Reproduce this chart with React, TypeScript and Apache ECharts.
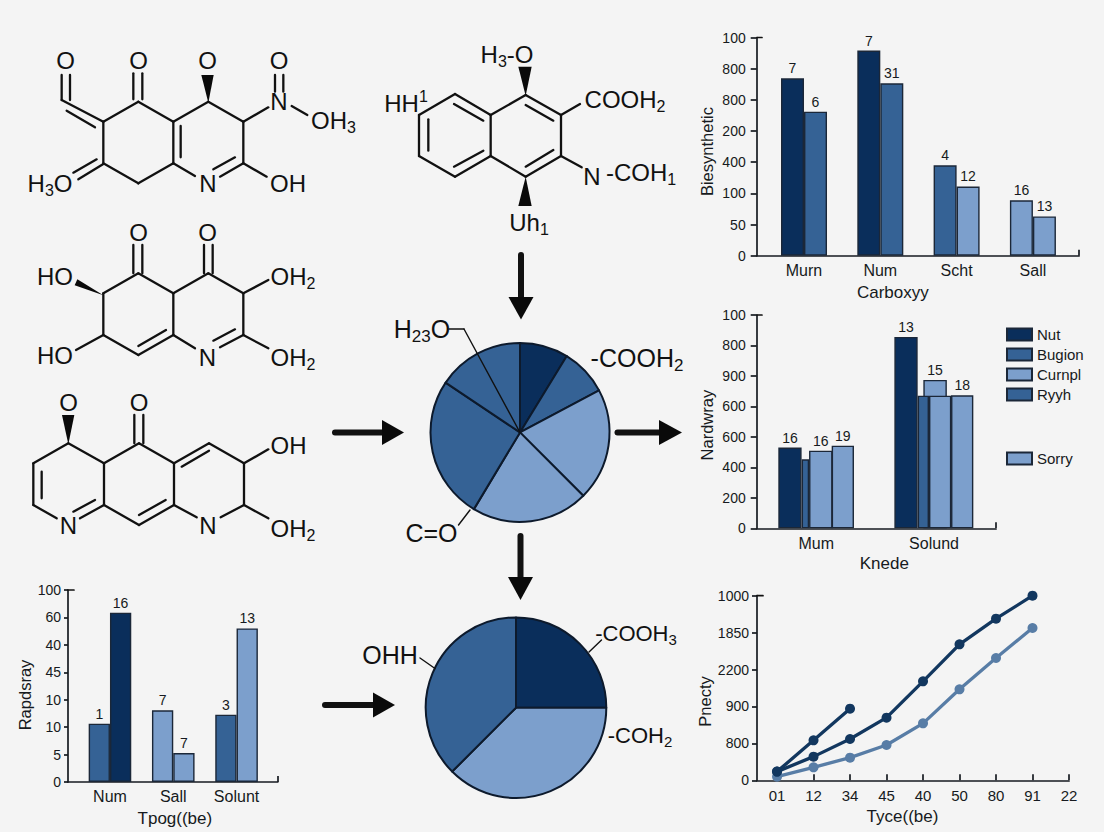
import React, { useEffect, useRef } from "react";
import * as echarts from "echarts";

const DARK = "#0a2e5b";
const MID = "#356295";
const LIGHT = "#7c9fcc";
const EDGE = "#1b2738";
const INK = "#161a20";
const FONT = "Liberation Sans";

// top right bars
const trTicks = ["0", "50", "100", "400", "200", "800", "800", "100"];
const trCats = ["Murn", "Num", "Scht", "Sall"];
const trFirst = [5.69, 6.58, 2.9, 1.775];
const trSecond = [4.62, 5.53, 2.22, 1.26];
const trFirstLabels = ["7", "7", "4", "16"];
const trSecondLabels = ["6", "31", "12", "13"];
const trFirstColors = [DARK, DARK, MID, LIGHT];
const trSecondColors = [MID, MID, LIGHT, LIGHT];

// middle right bars
const mrTicks = ["0", "200", "400", "600", "600", "900", "800", "100"];
const mrCats = ["Mum", "Solund"];
const nutVals = [[0.773, 2.648], [1.758, 6.28]];
const bugionVals = [[0.971, 2.265]];
const ryyhVals = [[1.956, 4.354]];
const curnplVals = [[1.034, 2.549], [2.004, 4.869]];
const sorryVals = [[1.226, 2.713], [2.052, 4.354], [2.239, 4.365]];
const nutLabels = ["16", "13"];
const curnplLabels = ["16", "15"];
const sorryLabels = ["19", "", "18"];

// bottom left bars
const blTicks = ["0", "5", "10", "10", "45", "40", "60", "100"];
const blCats = ["Num", "Sall", "Solunt"];
const blFirst = [2.126, 2.612, 2.454];
const blSecond = [6.173, 1.057, 5.6];
const blFirstLabels = ["1", "7", "3"];
const blSecondLabels = ["16", "7", "13"];
const blFirstColors = [MID, LIGHT, MID];
const blSecondColors = [DARK, LIGHT, LIGHT];

// bottom right lines
const brTicks = ["0", "800", "900", "2200", "1850", "1000"];
const brCats = ["01", "12", "34", "45", "40", "50", "80", "91", "22"];
const brShort = [0.235, 1.083, 1.94];
const brLong = [0.235, 0.641, 1.119, 1.697, 2.68, 3.682, 4.377, 5.0];
const brLight = [0.099, 0.352, 0.614, 0.957, 1.543, 2.464, 3.312, 4.125];

// pies
const pieOneValues = [31.5, 30.5, 73, 76, 92.8, 56.2];
const pieOneColors = [DARK, MID, LIGHT, LIGHT, MID, MID];
const pieTwoValues = [90, 135, 135];
const pieTwoColors = [DARK, LIGHT, MID];

// drawing of the molecules, in units of a 3x crop
type Seg = number[];
const molOneBonds: Seg[] = [
  [310, 305, 415, 245], [415, 245, 520, 305], [520, 305, 520, 430], [520, 430, 415, 490], [415, 490, 310, 430], [310, 430, 310, 305],
  [520, 305, 625, 245], [625, 245, 730, 305], [730, 305, 730, 430], [520, 430, 585, 468], [730, 430, 660, 470], [705, 412, 640, 448],
  [542, 318, 542, 412], [730, 305, 805, 262], [825, 165, 825, 215], [850, 165, 850, 215], [875, 258, 922, 285], [730, 430, 800, 470],
  [400, 160, 400, 238], [427, 160, 427, 238], [185, 165, 185, 240], [210, 165, 210, 240], [185, 240, 310, 305], [200, 272, 285, 322],
  [290, 418, 220, 458], [310, 432, 235, 478],
];
const molTwoBonds: Seg[] = [
  [310, 250, 415, 190], [415, 190, 520, 250], [520, 250, 520, 375], [520, 375, 415, 435], [415, 435, 310, 375], [310, 375, 310, 250],
  [520, 250, 625, 190], [625, 190, 730, 250], [730, 250, 730, 375], [730, 375, 660, 412], [705, 358, 640, 392], [520, 375, 585, 415],
  [498, 360, 415, 408], [400, 105, 400, 190], [427, 105, 427, 190], [612, 105, 612, 190], [638, 105, 638, 190],
  [730, 250, 805, 210], [730, 375, 805, 415], [310, 375, 228, 420],
];
const molThreeBonds: Seg[] = [
  [100, 760, 205, 700], [205, 700, 312, 760], [312, 760, 312, 885], [312, 885, 240, 925], [100, 885, 170, 925], [100, 760, 100, 885],
  [312, 760, 417, 700], [417, 700, 522, 760], [522, 760, 522, 885], [522, 885, 417, 945], [417, 945, 312, 885],
  [522, 760, 627, 700], [627, 700, 732, 760], [732, 760, 732, 885], [732, 885, 662, 922], [522, 885, 590, 922],
  [125, 785, 125, 865], [285, 870, 220, 905], [497, 870, 417, 915], [545, 770, 627, 722],
  [403, 615, 403, 700], [430, 615, 430, 700], [732, 760, 805, 718], [732, 885, 805, 925],
];
const molFourBonds: Seg[] = [
  [147, 255, 255, 192], [255, 192, 362, 255], [362, 255, 362, 378], [362, 378, 255, 440], [255, 440, 147, 378], [147, 378, 147, 255],
  [362, 255, 467, 195], [467, 195, 573, 255], [573, 255, 573, 378], [573, 378, 467, 440], [467, 440, 362, 378],
  [175, 268, 175, 362], [252, 222, 340, 272], [252, 410, 340, 362], [467, 225, 550, 272], [467, 410, 550, 360],
  [573, 255, 630, 222], [573, 378, 635, 412],
];

const tx = (color: string) => ({ color, fontFamily: FONT });

function valueY(ticks: string[], name: string, pad: number[], gap: number, grid: number, margin: number, tickLen: number) {
  return {
    type: "value", gridIndex: grid, min: 0, max: ticks.length - 1, interval: 1,
    name, nameLocation: "middle", nameGap: gap,
    nameTextStyle: { ...tx(INK), fontSize: 16.5, padding: pad },
    splitLine: { show: false },
    axisLine: { show: true, onZero: false, lineStyle: { color: INK, width: 1.7 } },
    axisTick: { show: true, length: tickLen, lineStyle: { color: INK, width: 1.7 } },
    axisLabel: { ...tx(INK), fontSize: 14, margin, formatter: (v: number) => ticks[v] },
  };
}

function valueX(min: number, max: number, cats: string[], labelAt: number[], name: string, pad: number[], gap: number, grid: number, tickAt: number[], labelSize: number, margin: number) {
  return {
    type: "value", gridIndex: grid, min, max,
    name, nameLocation: "middle", nameGap: gap,
    nameTextStyle: { ...tx(INK), fontSize: 17, padding: pad },
    splitLine: { show: false },
    axisLine: { show: true, lineStyle: { color: INK, width: 1.7 } },
    axisTick: { show: true, inside: true, length: 6, customValues: tickAt, lineStyle: { color: INK, width: 1.7 } },
    axisLabel: {
      ...tx(INK), fontSize: labelSize, margin, customValues: labelAt,
      formatter: (v: number) => cats[labelAt.indexOf(v)],
    },
  };
}

const barBase = {
  type: "bar",
  itemStyle: { borderColor: EDGE, borderWidth: 1.4 },
};

const pointLabel = (text: string) => ({
  show: text !== "", position: "top", distance: 3, formatter: text, ...tx(INK), fontSize: 14,
});

function pairedBars(cats: string[], vals: number[], labels: string[], colors: string[], axis: number, width: number) {
  return {
    ...barBase, xAxisIndex: axis, yAxisIndex: axis, barWidth: width, barGap: "0%",
    data: cats.map((_, i) => ({
      value: [i + 1, vals[i]],
      itemStyle: { color: colors[i], borderColor: EDGE, borderWidth: 1.4 },
      label: pointLabel(labels[i]),
    })),
  };
}

function namedBars(name: string, vals: number[][], labels: string[] | null, color: string, width: number) {
  return {
    ...barBase, name, xAxisIndex: 1, yAxisIndex: 1, barWidth: width, barGap: "-100%",
    itemStyle: { color, borderColor: EDGE, borderWidth: 1.4 },
    data: vals.map((v, i) => ({ value: v, label: pointLabel(labels ? labels[i] : "") })),
  };
}

function lineS(vals: number[], color: string, z: number) {
  return {
    type: "line", xAxisIndex: 3, yAxisIndex: 3, z,
    data: vals.map((v, i) => [i, v]),
    symbol: "circle", symbolSize: 10,
    lineStyle: { color, width: 3.3 }, itemStyle: { color },
  };
}

function pieS(cx: number, cy: number, r: number, values: number[], colors: string[]) {
  return {
    type: "pie", center: [cx, cy], radius: r, startAngle: 90, clockwise: true,
    label: { show: false }, labelLine: { show: false }, silent: true,
    data: values.map((value, i) => ({
      value, name: "slice " + (i + 1),
      itemStyle: { color: colors[i], borderColor: "#0d1a2c", borderWidth: 2 },
    })),
  };
}

const rich = (size: number) => ({
  n: { fontSize: size, fontFamily: FONT, fill: "#111", lineHeight: size + 6 },
  s: { fontSize: Math.round(size * 0.68), fontFamily: FONT, fill: "#111", lineHeight: size + 6, verticalAlign: "bottom" },
  u: { fontSize: Math.round(size * 0.68), fontFamily: FONT, fill: "#111", lineHeight: size + 6, verticalAlign: "top" },
});

function atom(x: number, y: number, text: string, size = 24) {
  return {
    type: "text", x, y, z: 20, silent: true,
    style: { text, align: "center", verticalAlign: "middle", rich: rich(size), fill: "#111", font: `${size}px "${FONT}"` },
  };
}

const seg = (x1: number, y1: number, x2: number, y2: number, w = 2.3) => ({
  type: "line", z: 15, silent: true,
  shape: { x1, y1, x2, y2 }, style: { stroke: "#111", lineWidth: w, lineCap: "round" },
});
const bonds = (ox: number, oy: number, list: Seg[]) =>
  list.map(([a, b, c, d]) => seg(ox + a / 3, oy + b / 3, ox + c / 3, oy + d / 3));
const poly = (pts: number[][]) => ({
  type: "polygon", z: 15, silent: true, shape: { points: pts }, style: { fill: "#0a0a0a" },
});
const wedge = (ox: number, oy: number, pts: number[][]) => poly(pts.map(([x, y]) => [ox + x / 3, oy + y / 3]));

function arrowRight(x1: number, x2: number, tip: number, y: number) {
  return [seg(x1, y, x2, y, 6), poly([[x2, y - 12.5], [x2, y + 12.5], [tip, y]])];
}
function arrowDown(x: number, y1: number, y2: number, tip: number) {
  return [seg(x, y1, x, y2, 6), poly([[x - 12.5, y2], [x + 12.5, y2], [x, tip]])];
}

const graphics = [
  ...bonds(0, 20, molOneBonds),
  wedge(0, 20, [[625, 248], [604, 165], [641, 165]]),
  atom(65.5, 60, "{n|O}"), atom(138.5, 60, "{n|O}"), atom(207.5, 60, "{n|O}"), atom(279, 60, "{n|O}"),
  atom(279, 101.5, "{n|N}"), atom(333.5, 120, "{n|OH}{s|3}"), atom(50, 183.5, "{n|H}{s|3}{n|O}"),
  atom(208, 183, "{n|N}"), atom(288, 183.5, "{n|OH}"),

  ...bonds(0, 210, molTwoBonds),
  wedge(0, 210, [[310, 256], [232, 208], [224, 226]]),
  atom(138.5, 232, "{n|O}"), atom(207.5, 232, "{n|O}"), atom(55, 276, "{n|HO}"), atom(293, 276.5, "{n|OH}{s|2}"),
  atom(55, 355, "{n|HO}"), atom(293, 357, "{n|OH}{s|2}"), atom(207.5, 357, "{n|N}"),

  ...bonds(0, 210, molThreeBonds),
  wedge(0, 210, [[205, 703], [186, 615], [223, 615]]),
  atom(68.5, 402, "{n|O}"), atom(139, 402, "{n|O}"), atom(288.5, 445, "{n|OH}"), atom(293, 528, "{n|OH}{s|2}"),
  atom(68.5, 525, "{n|N}"), atom(208, 525, "{n|N}"),

  ...bonds(370, 30, molFourBonds),
  wedge(370, 30, [[467, 197], [445, 110], [485, 110]]),
  wedge(370, 30, [[467, 440], [445, 528], [485, 528]]),
  atom(507, 54, "{n|H}{s|3}{n|-O}"), atom(625, 99, "{n|COOH}{s|2}"), atom(592, 176, "{n|N}"), atom(641, 172, "{n|-COH}{s|1}"),
  atom(406, 103, "{n|HH}{u|1}"), atom(529, 222, "{n|Uh}{s|1}"),

  ...arrowDown(521, 255, 297, 319.5),
  ...arrowRight(335, 382, 404, 432.5),
  ...arrowRight(617.5, 659, 682, 432.5),
  ...arrowDown(520.5, 536, 577, 600),
  ...arrowRight(325, 373, 395, 705),

  atom(422, 329, "{n|H}{s|23}{n|O}", 25),
  seg(449, 329, 464, 329, 1.4), seg(464, 329, 520, 432.5, 1.4),
  atom(637, 358, "{n|-COOH}{s|2}", 25),
  atom(431.5, 532.5, "{n|C=O}", 25),
  seg(458.5, 525, 470, 510, 1.4),

  atom(390, 655, "{n|OHH}", 25),
  seg(420, 658, 435, 668.5, 1.4),
  atom(636, 633, "{n|-COOH}{s|3}", 22),
  seg(601.5, 640, 589, 652, 1.4),
  atom(640, 735, "{n|-COH}{s|2}", 22),

  seg(757, 37.5, 762, 37.5, 1.7), seg(757, 315, 762, 315, 1.7), seg(68, 590, 74, 590, 1.7), seg(757, 595.7, 763, 595.7, 1.7),
];

const grids = [
  { left: 756.7, top: 37.5, width: 322.3, height: 218.2 },
  { left: 756.7, top: 315, width: 239.3, height: 213.3 },
  { left: 68, top: 590, width: 209.7, height: 192 },
  { left: 757, top: 595.7, width: 312, height: 184.6 },
];

const option: any = {
  animation: false,
  backgroundColor: "#f4f4f4",
  textStyle: { fontFamily: FONT },
  grid: grids,
  xAxis: [
    valueX(0.38, 4.604, trCats, [1, 2, 3, 4], "Carboxyy", [0, 50, 0, 0], 28, 0, [4.604], 16, 7),
    valueX(0.495, 2.526, mrCats, [1, 2], "Knede", [0, 0, 0, 16], 27, 1, [2.526], 16, 7),
    valueX(0.337, 3.65, blCats, [1, 2, 3], "Tpog((be)", [0, 0, 0, 4], 28, 2, [3.65], 16, 6),
    valueX(-0.549, 8, brCats, [0, 1, 2, 3, 4, 5, 6, 7, 8], "Tyce((be)", [0, 21, 0, 0], 28, 3, [0, 1, 2, 3, 4, 5, 6, 7, 8], 15, 8),
  ],
  yAxis: [
    valueY(trTicks, "Biesynthetic", [0, 10, 0, 0], 41, 0, 11, 6),
    valueY(mrTicks, "Nardwray", [0, 7, 0, 0], 41, 1, 11, 6),
    valueY(blTicks, "Rapdsray", [0, 18, 0, 0], 20, 2, 7, 4),
    valueY(brTicks, "Pnecty", [0, 27, 0, 0], 41, 3, 8, 5),
  ],
  legend: [
    {
      left: 1001, top: 322, orient: "vertical", itemWidth: 25, itemHeight: 12, itemGap: 5,
      icon: "rect", data: ["Nut", "Bugion", "Curnpl", "Ryyh"], textStyle: { ...tx(INK), fontSize: 15 },
    },
    {
      left: 1001, top: 446, orient: "vertical", itemWidth: 25, itemHeight: 12,
      icon: "rect", data: ["Sorry"], textStyle: { ...tx(INK), fontSize: 15 },
    },
  ],
  graphic: { elements: graphics },
  series: [
    pairedBars(trCats, trFirst, trFirstLabels, trFirstColors, 0, 23),
    pairedBars(trCats, trSecond, trSecondLabels, trSecondColors, 0, 23),
    namedBars("Curnpl", curnplVals, curnplLabels, LIGHT, 23.5),
    namedBars("Nut", nutVals, nutLabels, DARK, 23.3),
    namedBars("Bugion", bugionVals, null, MID, 7.5),
    namedBars("Ryyh", ryyhVals, null, MID, 11.3),
    namedBars("Sorry", sorryVals, sorryLabels, LIGHT, 22.3),
    pairedBars(blCats, blFirst, blFirstLabels, blFirstColors, 2, 21.3),
    pairedBars(blCats, blSecond, blSecondLabels, blSecondColors, 2, 21.3),
    lineS(brLight, "#587da6", 3),
    lineS(brLong, "#12375f", 4),
    lineS(brShort, "#12375f", 5),
    pieS(520, 432.4, 89.5, pieOneValues, pieOneColors),
    pieS(516, 707.7, 90.3, pieTwoValues, pieTwoColors),
  ],
};

export default function App() {
  const ref = useRef<HTMLDivElement>(null);
  useEffect(() => {
    document.body.style.margin = "0";
    const chart = echarts.init(ref.current!, undefined, { renderer: "svg" });
    chart.setOption(option);
    return () => chart.dispose();
  }, []);
  return <div ref={ref} style={{ position: "absolute", left: 0, top: 0, width: 1104, height: 832 }} />;
}
